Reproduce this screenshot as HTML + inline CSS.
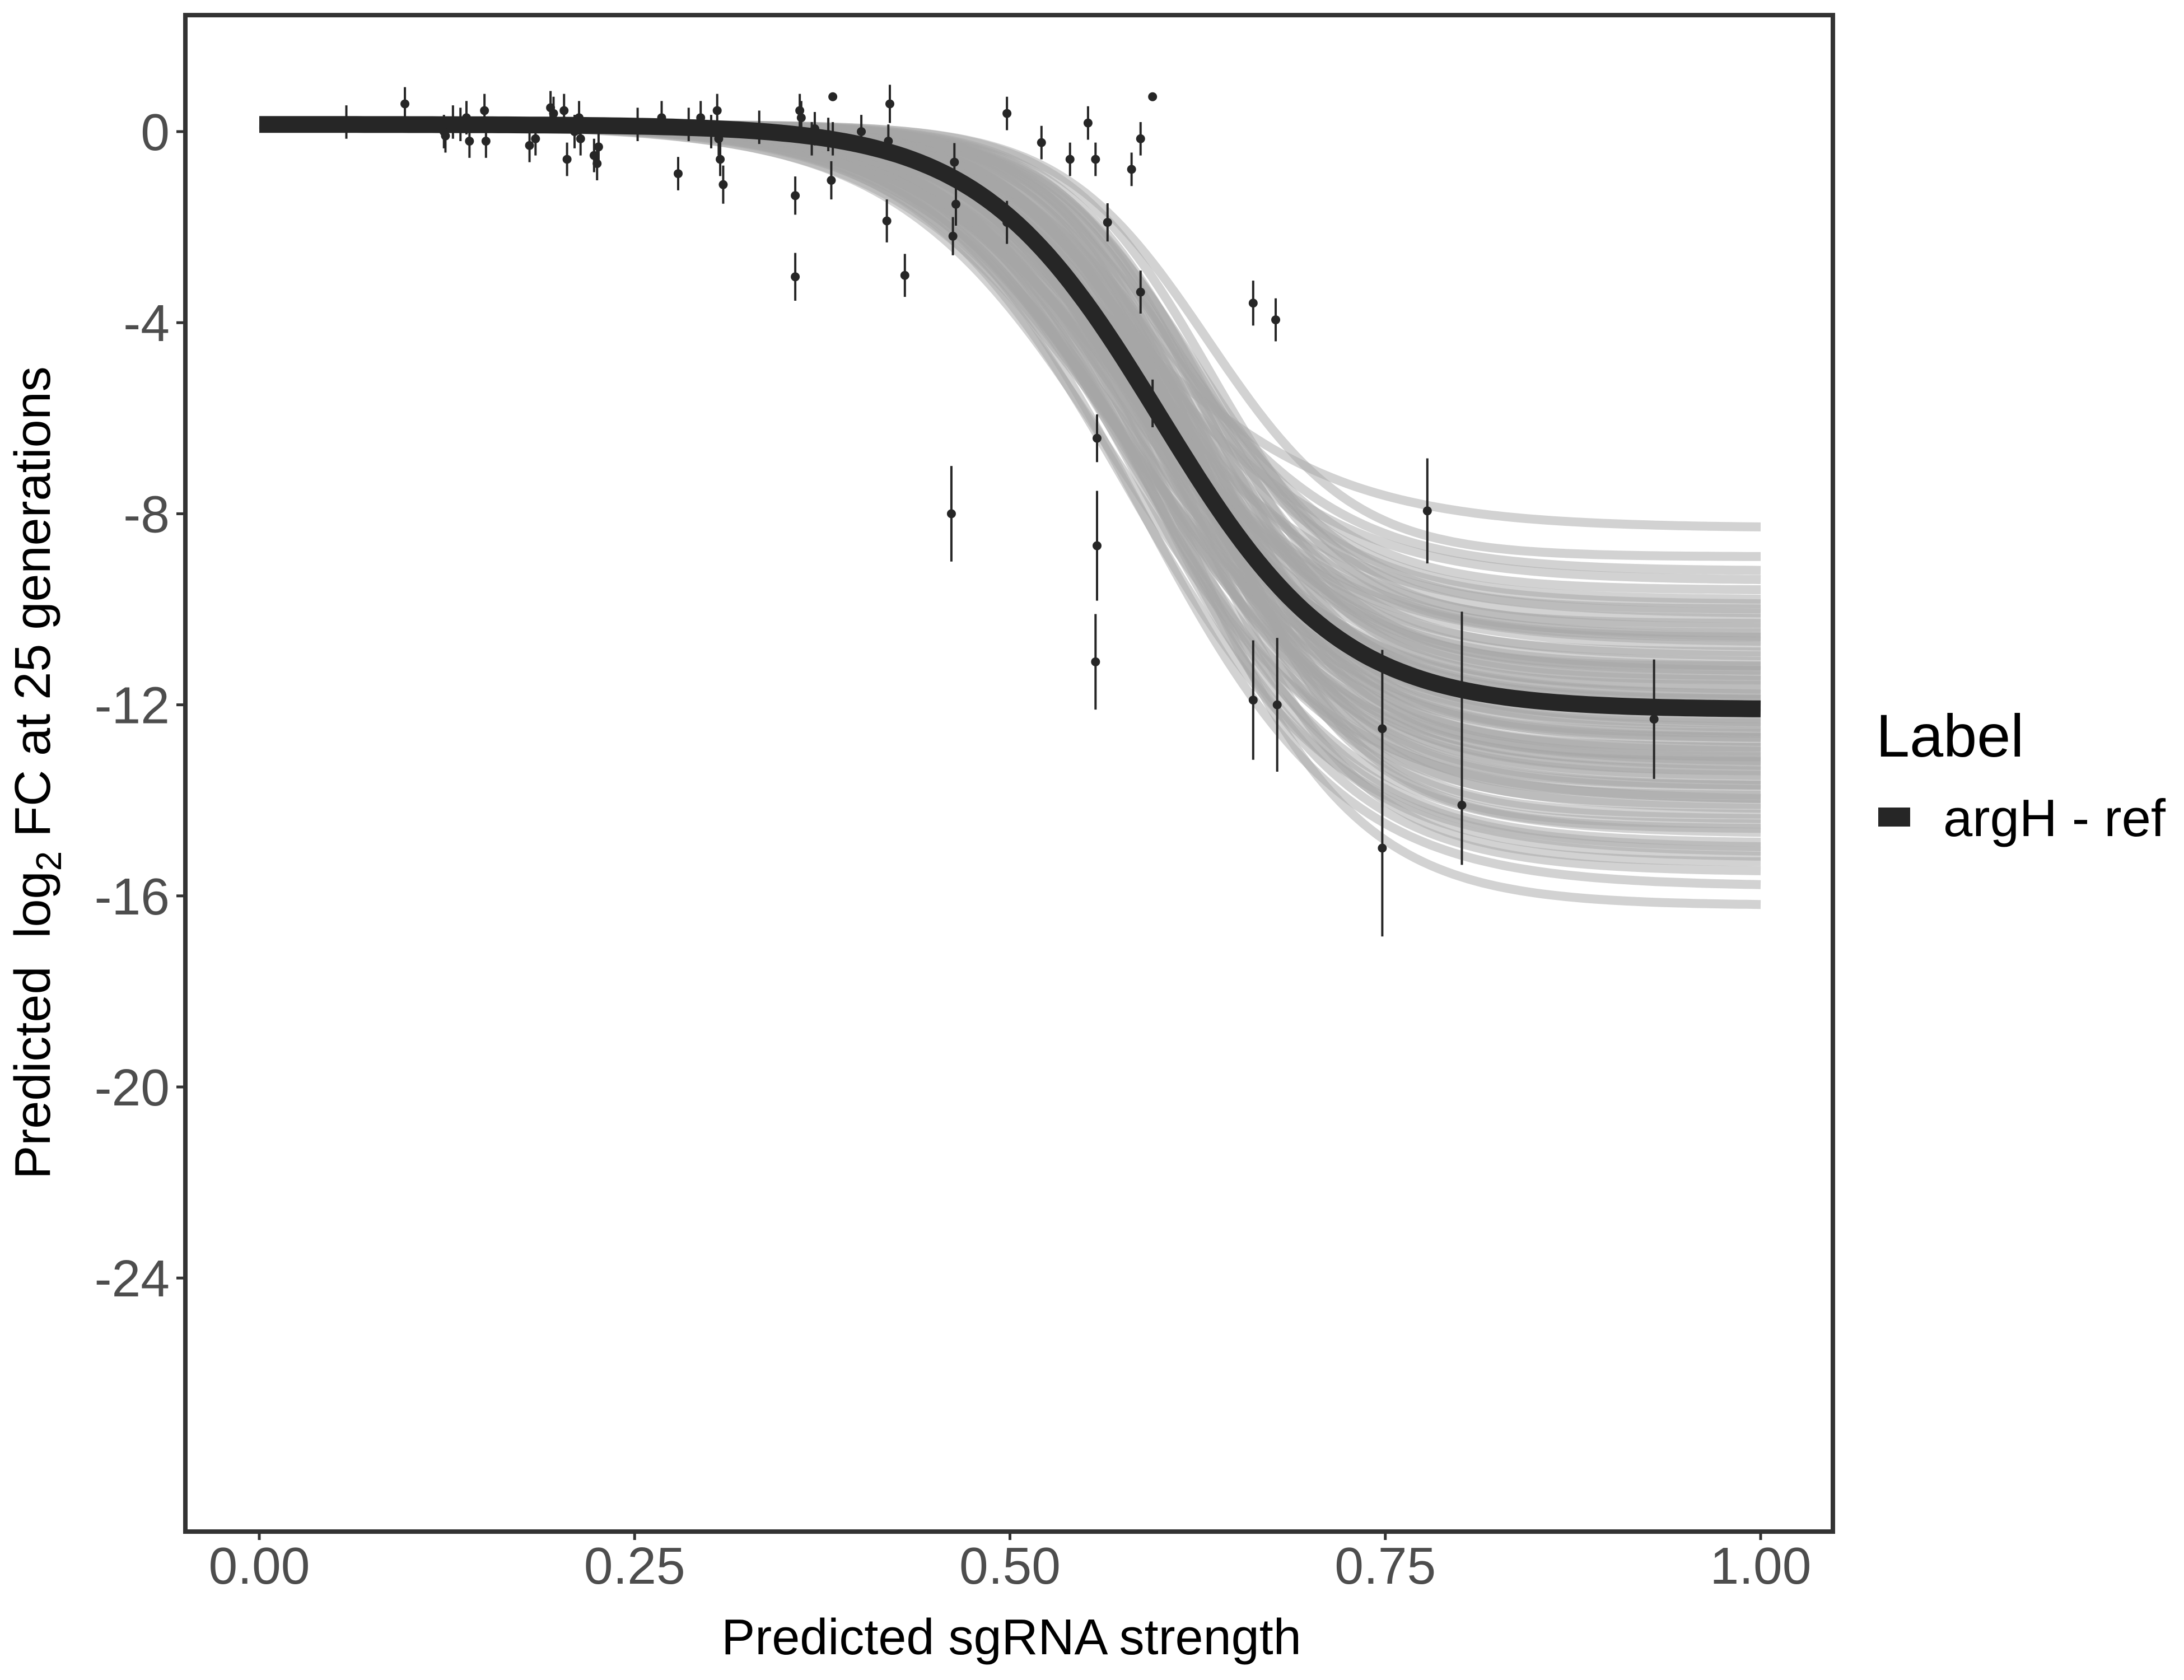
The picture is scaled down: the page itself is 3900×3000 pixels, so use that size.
<!DOCTYPE html>
<html><head><meta charset="utf-8"><style>
html,body{margin:0;padding:0;background:#fff;}
svg{display:block;font-family:"Liberation Sans",sans-serif;}
</style></head><body>
<svg id="chart" width="3900" height="3000" viewBox="0 0 3900 3000" xmlns="http://www.w3.org/2000/svg">
<rect x="0" y="0" width="3900" height="3000" fill="#fff"/>
<g id="curves"></g>
<g id="main"></g>
<g id="points"></g>
<rect x="331" y="27" width="2942" height="2708" fill="none" stroke="#333" stroke-width="8"/>
<g id="xticks"></g>
<g id="yticks"></g>
<text x="1806" y="2954" font-size="90" text-anchor="middle" fill="#000">Predicted sgRNA strength</text>
<text transform="translate(89,1380) rotate(-90)" font-size="90" text-anchor="middle" fill="#000" xml:space="preserve">Predicted  log<tspan font-size="64" dy="20">2</tspan><tspan dy="-20"> FC at 25 generations</tspan></text>
<g>
<text x="3350" y="1351" font-size="108" fill="#000">Label</text>
<rect x="3354" y="1442" width="57" height="34" fill="#262626"/>
<text x="3470" y="1493" font-size="94" fill="#000">argH - ref</text>
</g>
</svg>
<script>
// Observed data
const ptX = [0.058,0.097,0.123,0.124,0.129,0.134,0.138,0.140,0.150,0.151,0.180,0.184,0.194,0.196,0.203,0.205,0.210,0.213,0.214,0.223,0.225,0.226,0.252,0.268,0.279,0.286,0.294,0.301,0.305,0.306,0.307,0.309,0.333,0.357,0.357,0.360,0.361,0.368,0.370,0.379,0.381,0.382,0.382,0.401,0.418,0.419,0.420,0.430,0.461,0.462,0.463,0.464,0.498,0.498,0.521,0.540,0.552,0.557,0.558,0.558,0.557,0.565,0.581,0.587,0.587,0.595,0.595,0.662,0.662,0.677,0.678,0.748,0.748,0.778,0.801,0.801,0.929];
const ptY = [0.20,0.58,0,-0.09,0.2,0.15,0.29,-0.2,0.44,-0.2,-0.29,-0.15,0.5,0.38,0.44,-0.58,0,0.29,-0.15,-0.5,-0.67,-0.32,0.15,0.29,-0.88,0.15,0.29,0,0.44,-0.15,-0.58,-1.11,0.09,-1.34,-3.04,0.44,0.29,-0.15,0.06,-0.06,-1.02,0.73,-0.15,0,-1.87,-0.2,0.58,-3.01,-8.0,-2.19,-0.64,-1.52,0.38,-1.9,-0.23,-0.58,0.18,-0.58,-6.42,-8.67,-11.1,-1.9,-0.79,-0.15,-3.36,-5.69,0.73,-3.59,-11.9,-3.94,-12.0,-12.5,-15.0,-7.94,-11.65,-14.1,-12.3];
const ptErr = [0.35,0.35,0.35,0.35,0.35,0.35,0.35,0.35,0.35,0.35,0.35,0.35,0.35,0.35,0.35,0.35,0.35,0.35,0.35,0.35,0.35,0.35,0.35,0.35,0.35,0.35,0.35,0.35,0.35,0.35,0.35,0.4,0.35,0.4,0.5,0.35,0.35,0.35,0.35,0.35,0.4,0,0.35,0.35,0.45,0.35,0.4,0.45,1.0,0.4,0.4,0.45,0.35,0.45,0.35,0.35,0.35,0.35,0.5,1.15,1.0,0.4,0.35,0.35,0.45,0.5,0,0.47,1.25,0.45,1.4,1.65,1.85,1.1,1.6,1.25,1.25];
// Fit parameters
const fitTop = 0.15, fitBottom = -12.1, fitMid = 0.6, fitScale = 0.06;
// Posterior draw parameters
const drawBottom = [-8.3,-8.9,-9.4,-9.6,-9.9,-10.1,-10.2,-10.4,-10.5,-10.6,-10.8,-10.9,-11.0,-11.1,-11.2,-11.3,-11.4,-11.5,-11.6,-11.7,-11.8,-11.9,-12.0,-12.0,-12.1,-12.2,-12.3,-12.4,-12.5,-12.6,-12.7,-12.8,-12.9,-13.0,-13.1,-13.2,-13.3,-13.4,-13.5,-13.6,-13.7,-13.8,-13.9,-14.0,-14.1,-14.2,-14.4,-14.5,-14.7,-14.9,-15.1,-15.3,-15.5,-15.8,-16.2,-9.2,-10.0,-10.7,-11.3,-11.9,-12.4,-12.9,-13.4,-14.0,-14.6,-15.2,-9.8,-10.6,-11.2,-11.8,-12.2,-12.7,-13.2,-13.7,-14.3,-15.0,-11.5,-12.6,-13.1,-10.3];
const drawMid = [0.572,0.632,0.586,0.614,0.600,0.579,0.621,0.593,0.628,0.607,
                 0.576,0.625,0.583,0.611,0.597,0.604,0.618,0.590,0.628,0.579,
                 0.586,0.600,0.572,0.632,0.607,0.593,0.621,0.614,0.583,0.628,
                 0.597,0.576,0.618,0.590,0.604,0.625,0.579,0.611,0.600,0.586,
                 0.614,0.593,0.628,0.572,0.621,0.583,0.607,0.632,0.590,0.600,
                 0.579,0.618,0.597,0.586,0.611,0.604,0.625,0.576,0.593,0.614,
                 0.569,0.628,0.600,0.583,0.621,0.590,0.607,0.576,0.632,0.597,
                 0.586,0.614,0.579,0.604,0.625,0.593,0.611,0.572,0.618,0.634];
const drawScale = [0.073,0.049,0.068,0.056,0.062,0.070,0.054,0.065,0.051,0.059,
                   0.072,0.052,0.069,0.058,0.063,0.061,0.055,0.066,0.051,0.070,
                   0.068,0.062,0.073,0.049,0.059,0.065,0.054,0.056,0.069,0.051,
                   0.063,0.072,0.055,0.066,0.061,0.052,0.070,0.058,0.062,0.068,
                   0.056,0.065,0.051,0.073,0.054,0.069,0.059,0.049,0.066,0.062,
                   0.070,0.055,0.063,0.068,0.058,0.061,0.052,0.072,0.065,0.056,
                   0.075,0.051,0.062,0.069,0.054,0.066,0.059,0.072,0.049,0.063,
                   0.068,0.056,0.070,0.061,0.052,0.065,0.058,0.073,0.055,0.048];
const xTicks = [0,0.25,0.5,0.75,1];
const xTickLabels = ["0.00","0.25","0.50","0.75","1.00"];
const yTicks = [0,-4,-8,-12,-16,-20,-24];
const yTickLabels = ["0","-4","-8","-12","-16","-20","-24"];

const NS="http://www.w3.org/2000/svg";
const X = v => 463 + v*(3144-463);
const Y = v => 235 - v*85.3;
function logi(x,top,bot,mid,s){return top + (bot-top)/(1+Math.exp(-(x-mid)/s));}
function pathFor(top,bot,mid,s){let d="";for(let i=0;i<=200;i++){const x=i/200;d+=(i?"L":"M")+X(x).toFixed(1)+","+Y(logi(x,top,bot,mid,s)).toFixed(1);}return d;}

const cg=document.getElementById('curves');
for(let i=0;i<drawBottom.length;i++){
  const p=document.createElementNS(NS,'path');
  p.setAttribute('d',pathFor(fitTop,drawBottom[i],drawMid[i],drawScale[i]));
  p.setAttribute('fill','none');p.setAttribute('stroke','#a6a6a6');p.setAttribute('stroke-width','16');p.setAttribute('stroke-opacity','0.5');
  
  
  cg.appendChild(p);
}
const mp=document.createElementNS(NS,'path');
mp.setAttribute('d',pathFor(fitTop,fitBottom,fitMid,fitScale));
mp.setAttribute('fill','none');mp.setAttribute('stroke','#262626');mp.setAttribute('stroke-width','30');


document.getElementById('main').appendChild(mp);

const pg=document.getElementById('points');
for(let i=0;i<ptX.length;i++){
  if(ptErr[i]>0){
    const l=document.createElementNS(NS,'line');
    l.setAttribute('x1',X(ptX[i]));l.setAttribute('x2',X(ptX[i]));
    l.setAttribute('y1',Y(ptY[i]+ptErr[i]));l.setAttribute('y2',Y(ptY[i]-ptErr[i]));
    l.setAttribute('stroke','#262626');l.setAttribute('stroke-width','4');
    
    
    pg.appendChild(l);
  }
  const c=document.createElementNS(NS,'circle');
  c.setAttribute('cx',X(ptX[i]));c.setAttribute('cy',Y(ptY[i]));c.setAttribute('r','8');c.setAttribute('fill','#262626');
  
  
  pg.appendChild(c);
}
const xg=document.getElementById('xticks');
xTicks.forEach((v,i)=>{
  const l=document.createElementNS(NS,'line');
  l.setAttribute('x1',X(v));l.setAttribute('x2',X(v));l.setAttribute('y1',2735);l.setAttribute('y2',2750);
  l.setAttribute('stroke','#333');l.setAttribute('stroke-width','5');
  
  
  xg.appendChild(l);
  const t=document.createElementNS(NS,'text');
  t.setAttribute('x',X(v));t.setAttribute('y',2828);t.setAttribute('font-size','93');t.setAttribute('text-anchor','middle');t.setAttribute('fill','#4d4d4d');
  t.textContent=xTickLabels[i];
  
  
  xg.appendChild(t);
});
const yg=document.getElementById('yticks');
yTicks.forEach((v,i)=>{
  const l=document.createElementNS(NS,'line');
  l.setAttribute('x1',315);l.setAttribute('x2',331);l.setAttribute('y1',Y(v));l.setAttribute('y2',Y(v));
  l.setAttribute('stroke','#333');l.setAttribute('stroke-width','5');
  
  
  yg.appendChild(l);
  const t=document.createElementNS(NS,'text');
  t.setAttribute('x',303);t.setAttribute('y',Y(v)+33);t.setAttribute('font-size','93');t.setAttribute('text-anchor','end');t.setAttribute('fill','#4d4d4d');
  t.textContent=yTickLabels[i];
  
  
  yg.appendChild(t);
});
</script>
</body></html>
